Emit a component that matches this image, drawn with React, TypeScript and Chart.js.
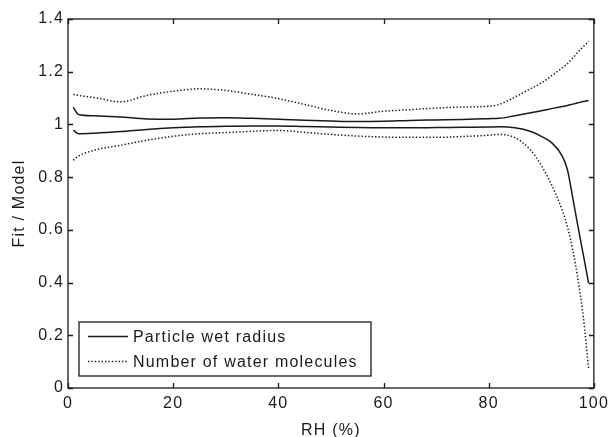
import React, { useEffect, useRef } from 'react';
import { Chart, registerables } from 'chart.js';
Chart.register(...registerables);

const rh = [1, 2, 5, 10, 15, 20, 25, 30, 35, 40, 45, 50, 55, 60, 65, 70, 75, 80, 82, 85, 88, 90, 92, 94, 95, 96, 97, 98, 99];

const radiusUpper = [1.065, 1.038, 1.033, 1.028, 1.021, 1.020, 1.024, 1.025, 1.023, 1.020, 1.016, 1.013, 1.011, 1.012, 1.015, 1.017, 1.019, 1.022, 1.023, 1.033, 1.044, 1.052, 1.060, 1.068, 1.072, 1.077, 1.082, 1.087, 1.091];
const radiusLower = [0.978, 0.965, 0.967, 0.973, 0.981, 0.987, 0.991, 0.993, 0.994, 0.994, 0.992, 0.990, 0.988, 0.987, 0.987, 0.988, 0.989, 0.990, 0.991, 0.987, 0.973, 0.955, 0.930, 0.880, 0.826, 0.720, 0.610, 0.505, 0.398];
const waterUpper = [1.114, 1.110, 1.102, 1.086, 1.110, 1.126, 1.135, 1.129, 1.114, 1.098, 1.076, 1.053, 1.040, 1.050, 1.056, 1.062, 1.066, 1.069, 1.076, 1.104, 1.136, 1.157, 1.185, 1.215, 1.231, 1.252, 1.275, 1.295, 1.315];
const waterLower = [0.864, 0.880, 0.902, 0.921, 0.940, 0.955, 0.965, 0.969, 0.974, 0.977, 0.970, 0.962, 0.956, 0.952, 0.951, 0.951, 0.954, 0.959, 0.962, 0.950, 0.902, 0.845, 0.769, 0.674, 0.610, 0.522, 0.409, 0.269, 0.075];

const legendLabels = ['Particle wet radius', 'Number of water molecules'];
const xTitle = 'RH (%)';
const yTitle = 'Fit / Model';

const FONT = "'Liberation Sans', Arial, Helvetica, sans-serif";
const FS = 16;
const SPACING = '1.2px';
const INK = '#1a1a1a';
const DOT = [1.4, 2.0];
const LW = 1.5;

const toPts = (ys: number[]) => ys.map((y, i) => ({ x: rh[i], y }));

export default function App() {
  const ref = useRef<HTMLCanvasElement>(null);
  useEffect(() => {
    const setSpacing = (chart: any) => {
      try { (chart.ctx as any).letterSpacing = SPACING; } catch (e) { /* ignore */ }
    };
    const framePlugin = {
      id: 'frame',
      beforeInit: setSpacing,
      beforeUpdate: setSpacing,
      beforeLayout: setSpacing,
      beforeDraw: setSpacing,
      afterDraw(chart: any) {
        const { ctx, chartArea } = chart;
        const { left, right, top, bottom } = chartArea;
        const xs = chart.scales.x;
        const ys = chart.scales.y;
        ctx.save();
        ctx.strokeStyle = INK;
        ctx.lineWidth = 1.3;
        ctx.setLineDash([]);
        ctx.strokeRect(left, top, right - left, bottom - top);
        const tl = 5;
        ctx.beginPath();
        xs.ticks.forEach((t: any) => {
          const px = Math.round(xs.getPixelForValue(t.value)) + 0.5;
          ctx.moveTo(px, bottom); ctx.lineTo(px, bottom - tl);
          ctx.moveTo(px, top); ctx.lineTo(px, top + tl);
        });
        ys.ticks.forEach((t: any) => {
          const py = Math.round(ys.getPixelForValue(t.value)) + 0.5;
          ctx.moveTo(left, py); ctx.lineTo(left + tl, py);
          ctx.moveTo(right, py); ctx.lineTo(right - tl, py);
        });
        ctx.stroke();

        // legend
        const bx = left + 11, by = bottom - 66, bw = 292, bh = 54;
        ctx.fillStyle = '#ffffff';
        ctx.fillRect(bx, by, bw, bh);
        ctx.lineWidth = 1.3;
        ctx.strokeRect(bx, by, bw, bh);
        const items = chart.data.datasets.filter((d: any) => d.showInLegend);
        ctx.font = `${FS}px ${FONT}`;
        ctx.textBaseline = 'middle';
        ctx.textAlign = 'left';
        items.forEach((d: any, i: number) => {
          const yy = by + 14.5 + i * 25;
          ctx.beginPath();
          ctx.lineWidth = d.borderWidth;
          ctx.setLineDash(d.borderDash || []);
          ctx.moveTo(bx + 9, yy);
          ctx.lineTo(bx + 49, yy);
          ctx.stroke();
          ctx.setLineDash([]);
          ctx.fillStyle = INK;
          ctx.fillText(d.label, bx + 54, yy + 1);
        });
        ctx.restore();
      },
    };

    const chart = new Chart(ref.current!, {
      type: 'line',
      data: {
        datasets: [
          { label: legendLabels[0], showInLegend: true, data: toPts(radiusUpper), borderColor: INK, borderWidth: LW, pointRadius: 0, cubicInterpolationMode: 'monotone' },
          { label: legendLabels[0] + ' (lower)', showInLegend: false, data: toPts(radiusLower), borderColor: INK, borderWidth: LW, pointRadius: 0, cubicInterpolationMode: 'monotone' },
          { label: legendLabels[1], showInLegend: true, data: toPts(waterUpper), borderColor: INK, borderWidth: LW, borderDash: DOT, pointRadius: 0, cubicInterpolationMode: 'monotone' },
          { label: legendLabels[1] + ' (lower)', showInLegend: false, data: toPts(waterLower), borderColor: INK, borderWidth: LW, borderDash: DOT, pointRadius: 0, cubicInterpolationMode: 'monotone' },
        ] as any,
      },
      options: {
        animation: false,
        responsive: true,
        maintainAspectRatio: false,
        layout: { padding: { left: 0, top: 19, right: 16, bottom: 0 } },
        plugins: { legend: { display: false }, tooltip: { enabled: false } },
        scales: {
          x: {
            type: 'linear',
            min: 0,
            max: 100,
            ticks: { stepSize: 20, color: INK, font: { family: FONT, size: FS }, padding: 6, maxRotation: 0 },
            grid: { display: false, drawTicks: false },
            border: { display: false },
            title: { display: true, text: xTitle, color: INK, font: { family: FONT, size: FS, lineHeight: 0.8 }, padding: { top: 0, bottom: 0 } },
            afterFit: (s: any) => { s.height = 49; },
          },
          y: {
            type: 'linear',
            min: 0,
            max: 1.4,
            ticks: { stepSize: 0.2, color: INK, font: { family: FONT, size: FS }, padding: 4, callback: (v: any) => String(Number(Number(v).toFixed(1))) },
            grid: { display: false, drawTicks: false },
            border: { display: false },
            title: { display: true, text: yTitle, color: INK, font: { family: FONT, size: FS }, padding: { top: 10, bottom: 0 } },
            afterFit: (s: any) => { s.width = 68; },
          },
        },
      },
      plugins: [framePlugin],
    });
    return () => chart.destroy();
  }, []);
  return (
    <div style={{ position: 'fixed', left: 0, top: 0, width: 615, height: 437, background: '#fff' }}>
      <canvas ref={ref} />
    </div>
  );
}
